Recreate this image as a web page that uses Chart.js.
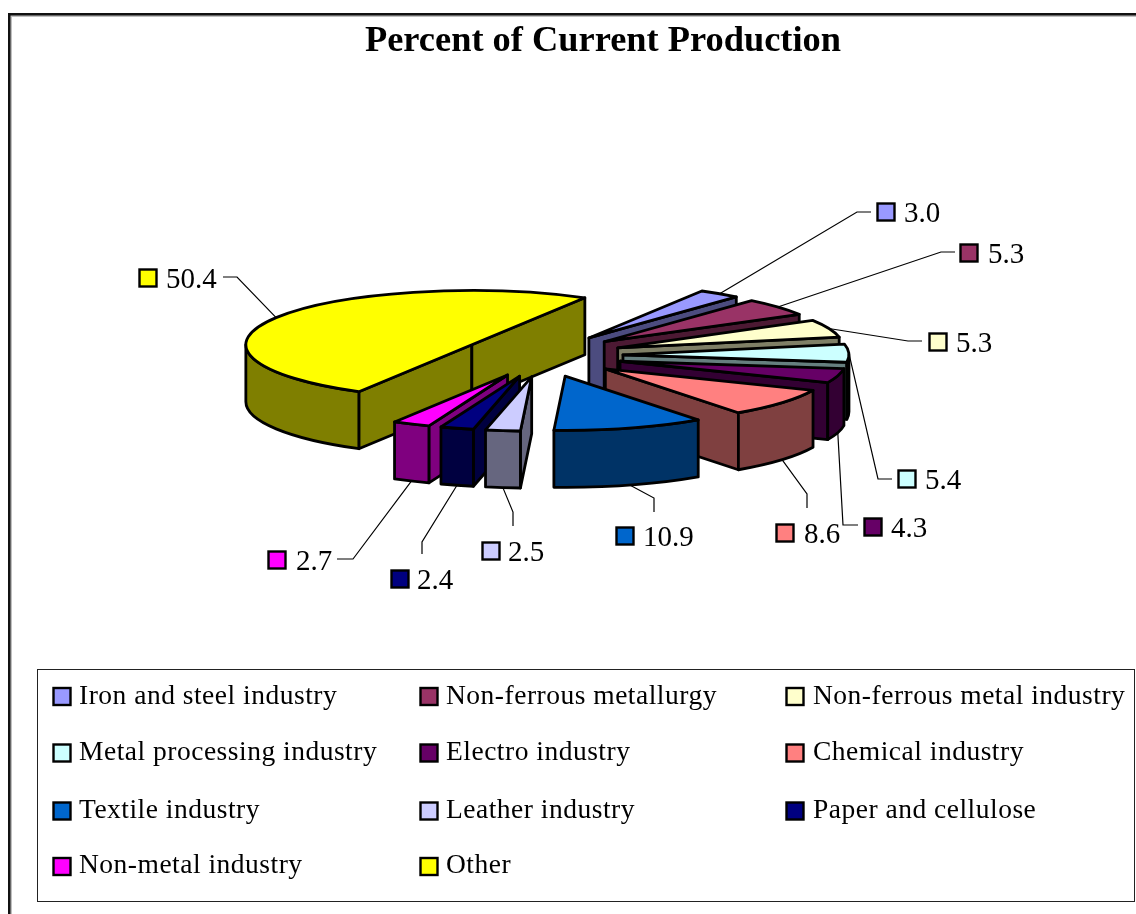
<!DOCTYPE html>
<html>
<head>
<meta charset="utf-8">
<title>Percent of Current Production</title>
<script src="https://cdn.jsdelivr.net/npm/chart.js@4/dist/chart.umd.min.js"></script>
<style>
  html, body { margin: 0; padding: 0; background: #fff; }
  canvas { display: block; }
</style>
</head>
<body>
<canvas id="chart" width="1136" height="914"></canvas>
<script>
// Data
const chartTitle = 'Percent of Current Production';
const categories = [
    'Iron and steel industry', 'Non-ferrous metallurgy', 'Non-ferrous metal industry',
    'Metal processing industry', 'Electro industry', 'Chemical industry',
    'Textile industry', 'Leather industry', 'Paper and cellulose',
    'Non-metal industry', 'Other'
];
const values = [3.0, 5.3, 5.3, 5.4, 4.3, 8.6, 10.9, 2.5, 2.4, 2.7, 50.4];
const colors = [
    '#9999ff', '#993366', '#ffffcc', '#ccffff', '#660066', '#ff8080',
    '#0066cc', '#ccccff', '#000080', '#ff00ff', '#ffff00'
];

// Fake 3D look of the pie
const pieX = 542;
const pieY = 355.5;
const pieRadius = 226;
const tilt = 0.24;
const explode = 81;
const explodeDrop = 21.5;
const depth = 57;
const font = '"Liberation Serif", "Times New Roman", serif';

// Value labels: swatch x, swatch centre y, text x, leader bend and leader end
const labelSwatchX = [886, 969, 938, 907, 873, 785, 625, 491, 400, 277, 148];
const labelY = [212, 253, 342, 479, 527, 533, 536, 551, 579, 560, 278];
const labelTextX = [904, 988, 956, 925, 891, 804, 643, 508, 417, 296, 166];
const leaderBend = [
    [857, 212], [941, 252], [908, 341], [878, 479], [843, 525], [807, 494],
    [654, 498], [513, 512], [422, 542], [353, 559], [237, 277]
];
const leaderEnd = [
    [871, 212], [955, 252], [922, 341], [892, 479], [858, 525], [807, 508],
    [654, 512], [513, 526], [422, 554], [337, 559], [223, 277]
];

// Legend grid
const legendCols = [62, 429, 795];
const legendTextCols = [79, 446, 813];
const legendRows = [696.5, 753, 811, 866.5];
const legendBaselines = [704, 760, 818, 873];

function halfShade(hex) {
    const n = parseInt(hex.slice(1), 16);
    return `rgb(${(n >> 16) >> 1},${((n >> 8) & 255) >> 1},${(n & 255) >> 1})`;
}

function swatch(ctx, cx, cy, color) {
    ctx.fillStyle = color;
    ctx.strokeStyle = '#000';
    ctx.lineWidth = 2.4;
    ctx.fillRect(cx - 8.5, cy - 8.5, 17, 17);
    ctx.strokeRect(cx - 8.5, cy - 8.5, 17, 17);
}

// Where a slice sits once it is pulled away from the centre
function sliceApex(arc) {
    const mid = (arc.startAngle + arc.endAngle) / 2;
    return {
        x: pieX + Math.cos(mid) * explode,
        y: pieY + Math.sin(mid) * explodeDrop
    };
}

function rimPoint(apex, angle) {
    return {
        x: apex.x + Math.cos(angle) * pieRadius,
        y: apex.y + Math.sin(angle) * pieRadius * tilt
    };
}

function drawCutWall(ctx, apex, angle) {
    const rim = rimPoint(apex, angle);
    ctx.beginPath();
    ctx.moveTo(apex.x, apex.y);
    ctx.lineTo(rim.x, rim.y);
    ctx.lineTo(rim.x, rim.y + depth);
    ctx.lineTo(apex.x, apex.y + depth);
    ctx.closePath();
    ctx.fill();
    ctx.stroke();
}

function drawRimWall(ctx, apex, start, end) {
    const TAU = Math.PI * 2;
    for (let k = -1; k <= 1; k++) {
        const lo = Math.max(start, k * TAU);
        const hi = Math.min(end, k * TAU + Math.PI);
        if (hi <= lo) continue;
        ctx.beginPath();
        ctx.ellipse(apex.x, apex.y, pieRadius, pieRadius * tilt, 0, lo, hi);
        ctx.ellipse(apex.x, apex.y + depth, pieRadius, pieRadius * tilt, 0, hi, lo, true);
        ctx.closePath();
        ctx.fill();
        ctx.stroke();
    }
}

// Draws every slice back to front, walls first and then the library's arc squashed flat
const pie3d = {
    id: 'pie3d',
    beforeDatasetsDraw(chart) {
        const ctx = chart.ctx;
        const arcs = chart.getDatasetMeta(0).data.map((arc, i) => ({ arc, i }));
        arcs.sort((a, b) =>
            Math.sin((a.arc.startAngle + a.arc.endAngle) / 2) -
            Math.sin((b.arc.startAngle + b.arc.endAngle) / 2));

        ctx.save();
        ctx.lineJoin = 'round';
        ctx.lineWidth = 2.8;
        ctx.strokeStyle = '#000';
        arcs.forEach(({ arc, i }) => {
            const apex = sliceApex(arc);
            const start = arc.startAngle;
            const end = arc.endAngle;

            ctx.fillStyle = halfShade(colors[i]);
            if (Math.cos(start) < 0) drawCutWall(ctx, apex, start);
            if (Math.cos(end) > 0) drawCutWall(ctx, apex, end);
            drawRimWall(ctx, apex, start, end);

            ctx.save();
            ctx.translate(apex.x, apex.y);
            ctx.scale(1, tilt);
            ctx.translate(-arc.x, -arc.y);
            arc.draw(ctx);
            ctx.restore();

            ctx.beginPath();
            ctx.moveTo(apex.x, apex.y);
            ctx.ellipse(apex.x, apex.y, pieRadius, pieRadius * tilt, 0, start, end);
            ctx.closePath();
            ctx.stroke();
        });
        ctx.restore();
        return false;
    },
    afterDraw(chart) {
        const ctx = chart.ctx;
        const arcs = chart.getDatasetMeta(0).data;
        ctx.save();

        // Value labels with their leader lines
        values.forEach((value, i) => {
            const arc = arcs[i];
            const mid = (arc.startAngle + arc.endAngle) / 2;
            const rim = rimPoint(sliceApex(arc), mid);
            ctx.strokeStyle = '#000';
            ctx.lineWidth = 1.2;
            ctx.beginPath();
            ctx.moveTo(rim.x, rim.y + (Math.sin(mid) > 0 ? depth : 0));
            ctx.lineTo(leaderBend[i][0], leaderBend[i][1]);
            ctx.lineTo(leaderEnd[i][0], leaderEnd[i][1]);
            ctx.stroke();

            swatch(ctx, labelSwatchX[i], labelY[i], colors[i]);
            ctx.fillStyle = '#000';
            ctx.font = `29px ${font}`;
            ctx.textBaseline = 'alphabetic';
            ctx.fillText(value.toFixed(1), labelTextX[i], labelY[i] + 10);
        });

        // Legend box
        ctx.strokeStyle = '#222';
        ctx.lineWidth = 1;
        ctx.strokeRect(37.5, 669.5, 1097, 232);
        categories.forEach((name, i) => {
            const col = i % 3;
            const row = Math.floor(i / 3);
            swatch(ctx, legendCols[col], legendRows[row], colors[i]);
            ctx.fillStyle = '#000';
            ctx.font = `27.5px ${font}`;
            ctx.letterSpacing = '0.5px';
            ctx.fillText(name, legendTextCols[col], legendBaselines[row]);
        });
        ctx.restore();
    },
    beforeDraw(chart) {
        // Outer frame runs off the right and bottom of the picture
        const ctx = chart.ctx;
        ctx.save();
        ctx.fillStyle = '#c0c0c0';
        ctx.fillRect(10, 15, 1126, 2);
        ctx.fillRect(10, 15, 2, 899);
        ctx.fillStyle = '#111';
        ctx.fillRect(8, 13, 1128, 2.5);
        ctx.fillRect(8, 13, 2.5, 901);
        ctx.restore();
    }
};

new Chart(document.getElementById('chart'), {
    type: 'pie',
    data: {
        labels: categories,
        datasets: [{
            data: values,
            backgroundColor: colors,
            borderWidth: 0
        }]
    },
    options: {
        responsive: false,
        animation: false,
        rotation: 30,
        radius: pieRadius,
        layout: { padding: { left: 70 } },
        events: [],
        plugins: {
            legend: { display: false },
            tooltip: { enabled: false },
            title: {
                display: true,
                text: chartTitle,
                color: '#000',
                font: { family: font, size: 36.4, weight: 'bold' },
                padding: { top: 20, bottom: 10 }
            }
        }
    },
    plugins: [pie3d]
});
</script>
</body>
</html>
